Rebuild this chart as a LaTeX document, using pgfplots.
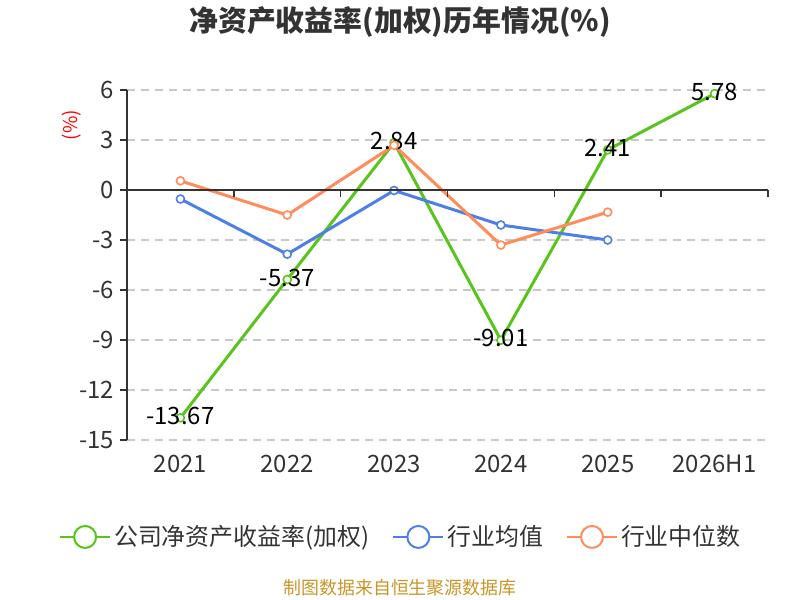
\documentclass[border=0pt]{standalone}
\usepackage{fontspec}
\setmainfont{Noto Sans CJK SC}
\usepackage{pgfplots}
\pgfplotsset{compat=1.18}
\definecolor{cgreen}{RGB}{88,196,28}
\definecolor{cblue}{RGB}{78,128,228}
\definecolor{corange}{RGB}{255,140,90}
\definecolor{ctext}{RGB}{51,51,51}
\definecolor{cgrid}{RGB}{200,200,200}
\definecolor{cfoot}{RGB}{200,150,40}
\begin{document}
\begin{tikzpicture}[x=1bp,y=1bp]
\useasboundingbox (0,0) rectangle (400,300);
\begin{axis}[
  at={(63.5bp,80bp)}, anchor=south west, scale only axis,
  width=320.5bp, height=175bp,
  xmin=-0.5, xmax=5.5, ymin=-15, ymax=6,
  ytick={-15,-12,-9,-6,-3,0,3,6},
  xtick={0,1,2,3,4,5},
  xticklabels={2021,2022,2023,2024,2025,2026H1},
  axis line style={draw=none}, major tick length=0pt,
  ymajorgrids, grid style={cgrid, line width=0.6bp, dash pattern=on 4bp off 3bp},
  tick label style={font=\fontsize{12}{14}\selectfont, color=ctext},
  yticklabel style={xshift=-3bp},
  xticklabel style={yshift=-4bp},
  /pgf/number format/assume math mode=true,
  clip=false,
  legend columns=3,
  legend style={at={(0.428,-0.277)}, anchor=center, draw=none, fill=none,
    font=\fontsize{12}{14}\selectfont, text=ctext,
    nodes={inner xsep=1.5bp},
    /tikz/every even column/.append style={column sep=10bp}},
  legend image code/.code={
    \draw[line width=1bp] (0bp,0bp) -- (25bp,0bp);
    \draw[line width=1bp, fill=white] (12.5bp,0bp) circle (5.5bp);
  },
  every axis plot/.append style={line width=1.5bp, mark=*, mark size=2bp,
    mark options={fill=white, line width=0.8bp}},
]
\addplot[cgreen, nodes near coords, point meta=explicit symbolic,
  every node near coord/.append style={anchor=center, yshift=1bp, text=black, font=\fontsize{12}{14}\selectfont}]
  coordinates {(0,-13.67)[-13.67] (1,-5.37)[-5.37] (2,2.84)[2.84] (3,-9.01)[-9.01] (4,2.41)[2.41] (5,5.78)[5.78]};
\addlegendentry{公司净资产收益率(加权)}
\addplot[cblue] coordinates {(0,-0.54) (1,-3.85) (2,-0.03) (3,-2.1) (4,-3.0)};
\addlegendentry{行业均值}
\addplot[corange] coordinates {(0,0.55) (1,-1.5) (2,2.68) (3,-3.3) (4,-1.33)};
\addlegendentry{行业中位数}
\end{axis}
% axis lines and ticks
\draw[ctext, line width=0.8bp] (63.5,80) -- (63.5,255);
\foreach \k in {0,...,7} { \draw[ctext, line width=0.8bp] (63.5,80+25*\k) -- (60,80+25*\k); }
\draw[ctext, line width=0.8bp] (63.5,205) -- (384,205);
\foreach \j in {0,...,6} { \draw[ctext, line width=0.8bp] (63.5+53.4167*\j,205) -- (63.5+53.4167*\j,201.5); }
\node[rotate=90, text=red, font=\fontsize{9.5}{11}\selectfont] at (36,237.5) {(\%)};
\node[font=\fontsize{14.5}{16}\selectfont\bfseries, text=ctext] at (200,289) {净资产收益率(加权)历年情况(\%)};
\node[font=\fontsize{9}{11}\selectfont, text=cfoot] at (200,6) {制图数据来自恒生聚源数据库};
\end{tikzpicture}
\end{document}
